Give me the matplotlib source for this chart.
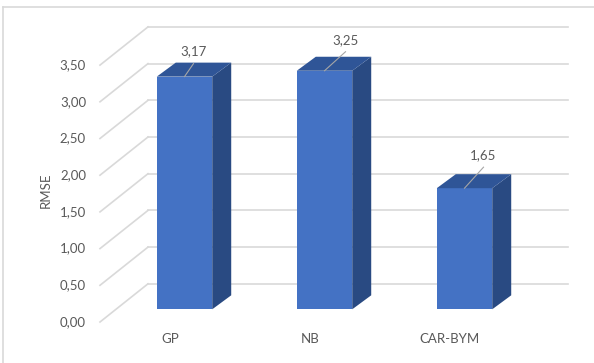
import matplotlib
matplotlib.use("Agg")
import matplotlib.pyplot as plt
from matplotlib.patches import Polygon

# data
categories = ["GP", "NB", "CAR-BYM"]
rmse = [3.17, 3.25, 1.65]
value_labels = ["3,17", "3,25", "1,65"]
yticks = [0.0, 0.5, 1.0, 1.5, 2.0, 2.5, 3.0, 3.5]
ytick_labels = ["0,00", "0,50", "1,00", "1,50", "2,00", "2,50", "3,00", "3,50"]

# data label placement (pixels, relative to bar top)
label_dx = [9, 21, 19]
label_dy = [-25, -31, -33]

plt.rcParams["font.family"] = ["Lato", "DejaVu Sans"]
TXT = "#595959"
FS = 9.5
FRONT = "#4472C4"
TOP = "#2F5597"
SIDE = "#294A82"
GRID = "#D9D9D9"

W, H = 594, 363
fig = plt.figure(figsize=(W / 100, H / 100), dpi=100)

# axes = front plane of the bars
left, right, bottom, top = 114.5, 534.5, 309.3, 52.4
ax = fig.add_axes([left / W, (H - bottom) / H, (right - left) / W, (bottom - top) / H])
ax.set_xlim(-0.5, 2.5)
ax.set_ylim(0, 3.5)
ax.axis("off")

# pixel -> data units
ux = 3.0 / (right - left)
uy = 3.5 / (bottom - top)

# depth offsets (pixels)
back_dx, back_dy = 33.5, 25.5     # back wall
front_dx, front_dy = -14.5, -12.7  # front edge of floor
bar_dx, bar_dy = 19, 14           # bar depth

x0, x1 = -0.5, 2.5
for v, lab in zip(yticks, ytick_labels):
    # back wall gridline
    ax.plot([x0 + back_dx * ux, x1 + back_dx * ux], [v + back_dy * uy] * 2,
            color=GRID, lw=1.2, clip_on=False, zorder=1)
    # side wall gridline
    ax.plot([x0 + front_dx * ux, x0 + back_dx * ux], [v + front_dy * uy, v + back_dy * uy],
            color=GRID, lw=1.2, clip_on=False, zorder=1)
    ax.text(x0 + (front_dx - 14) * ux, v + front_dy * uy, lab, ha="right", va="center",
            color=TXT, fontsize=FS)

w = 0.396
xs = list(range(len(categories)))
ax.bar(xs, rmse, width=w, color=FRONT, zorder=3, clip_on=False)
for i, v in enumerate(rmse):
    xr = i + w / 2
    xl = i - w / 2
    dx, dy = bar_dx * ux, bar_dy * uy
    ax.add_patch(Polygon([(xr, 0), (xr + dx, dy), (xr + dx, v + dy), (xr, v)],
                         closed=True, facecolor=SIDE, edgecolor="none", zorder=3, clip_on=False))
    ax.add_patch(Polygon([(xl, v), (xr, v), (xr + dx, v + dy), (xl + dx, v + dy)],
                         closed=True, facecolor=TOP, edgecolor="none", zorder=3, clip_on=False))
    # data label with leader line
    lx = i + label_dx[i] * ux
    ly = v - label_dy[i] * uy
    ax.plot([i, lx], [v, ly - 12 * uy], color="#A6A6A6", lw=0.8, zorder=4, clip_on=False)
    ax.text(lx, ly, value_labels[i], ha="center", va="center", color=TXT, fontsize=FS, zorder=5)
    # category label
    ax.text(i + front_dx * ux, -30 * uy, categories[i], ha="center", va="center",
            color=TXT, fontsize=FS)

fig.text(46 / W, 1 - 190 / H, "RMSE", rotation=90, ha="center", va="center",
         color=TXT, fontsize=FS)

# chart border (left and top edges visible)
fig.add_artist(plt.Line2D([3 / W, 3 / W], [0, 1 - 7 / H], color=GRID, lw=1.2))
fig.add_artist(plt.Line2D([3 / W, 1], [1 - 7 / H, 1 - 7 / H], color=GRID, lw=1.2))

fig.savefig("out.png", dpi=100)
